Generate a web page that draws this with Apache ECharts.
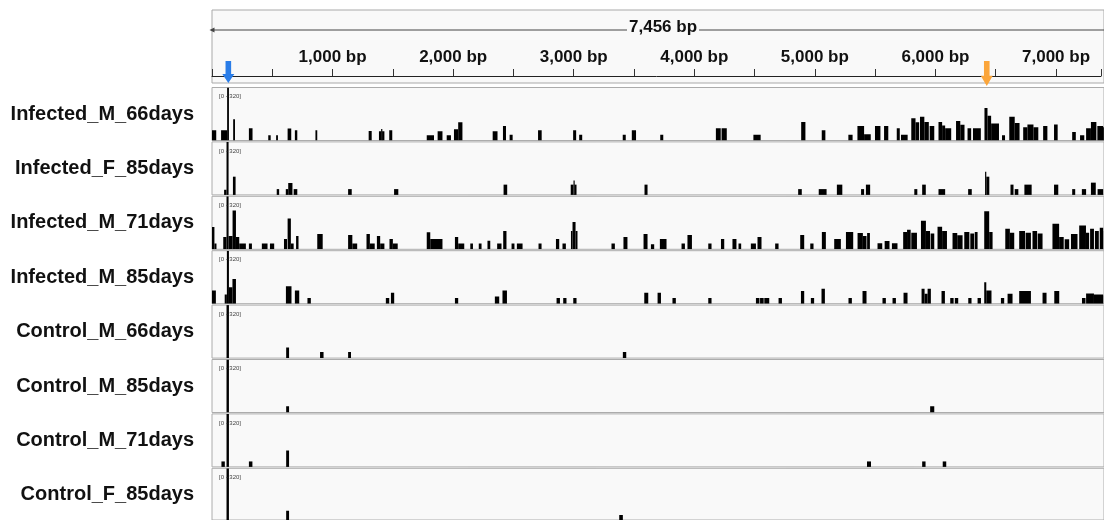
<!DOCTYPE html>
<html>
<head>
<meta charset="utf-8">
<script src="https://cdn.jsdelivr.net/npm/echarts@6/dist/echarts.min.js"></script>
<style>
  html, body { margin: 0; padding: 0; background: #ffffff; }
  #chart { width: 1104px; height: 520px; }
</style>
</head>
<body>
<div id="chart"></div>
<script>
// ---------------- DATA (genomic start bp, end bp, coverage) ----------------
const trackNames = [
  'Infected_M_66days', 'Infected_F_85days', 'Infected_M_71days', 'Infected_M_85days',
  'Control_M_66days', 'Control_M_85days', 'Control_M_71days', 'Control_F_85days'
];
const dataRangeMax = 320;
const viewSpanBp = 7456;      // length of the locus shown in the header
const visibleEndBp = 7373;    // bp at the right edge of the visible window
const rulerTickStep = 500;
const rulerLabelStep = 1000;
const blueMarkerBp = 135;
const orangeMarkerBp = 6404;

const infectedM66 = [
  [0,35,62],[75,125,62],[125,140,320],[175,190,128],[305,335,74],[465,485,31],[530,545,31],
  [625,655,72],[685,705,62],[855,870,62],[1295,1320,58],[1380,1398,56],[1398,1406,70],[1406,1425,56],
  [1465,1490,62],[1775,1835,31],[1865,1905,56],[1940,1975,31],[2000,2035,68],[2035,2070,110],
  [2320,2360,56],[2405,2430,87],[2460,2485,35],[2695,2725,62],[2985,3010,62],[3035,3060,35],
  [3395,3420,35],[3470,3505,62],[3705,3730,35],[4165,4205,74],[4212,4255,74],[4475,4535,35],
  [4870,4905,111],[5040,5070,62],[5260,5295,35],[5335,5390,87],[5390,5445,37],[5480,5525,87],
  [5555,5590,87],[5660,5685,74],[5695,5750,35],[5780,5815,134],[5815,5845,110],[5852,5888,143],
  [5888,5925,111],[5932,5970,87],[6005,6035,111],[6035,6060,90],[6060,6110,74],[6150,6185,118],
  [6185,6220,95],[6245,6275,74],[6290,6355,74],[6385,6410,196],[6410,6440,150],[6440,6505,103],
  [6530,6555,31],[6590,6635,143],[6635,6675,105],[6705,6740,80],[6740,6790,97],[6790,6830,80],
  [6870,6905,87],[6960,6990,97],[7110,7140,51],[7175,7210,31],[7225,7265,74],[7265,7310,111],
  [7318,7366,87],[7366,7456,80]
];
const infectedF85 = [
  [100,120,31],[120,137,320],[173,195,110],[535,555,35],[610,630,35],[630,665,72],[675,705,35],
  [1125,1155,35],[1505,1540,35],[2410,2440,62],[2965,2988,62],[2988,2996,87],[2996,3013,62],
  [3575,3600,62],[4845,4875,35],[5015,5080,35],[5165,5210,62],[5365,5390,35],[5405,5440,62],
  [5805,5830,35],[5870,5900,62],[6005,6060,35],[6250,6280,35],[6390,6400,140],[6400,6425,110],
  [6600,6625,62],[6635,6665,35],[6715,6775,62],[6960,6995,62],[7110,7135,35],[7190,7225,35],
  [7265,7305,74],[7320,7366,35],[7375,7456,35]
];
const infectedM71 = [
  [0,20,134],[20,37,35],[93,120,74],[120,137,320],[137,170,80],[170,198,235],[198,225,74],
  [225,280,35],[305,330,35],[412,459,35],[479,514,35],[595,620,62],[625,652,186],[652,675,35],
  [695,715,80],[870,915,93],[1125,1160,87],[1160,1200,35],[1277,1305,93],[1305,1345,35],
  [1363,1390,80],[1390,1425,35],[1467,1495,62],[1495,1535,35],[1775,1804,103],[1804,1905,62],
  [2008,2035,74],[2035,2085,35],[2135,2157,35],[2205,2228,35],[2277,2300,51],[2357,2393,35],
  [2407,2434,111],[2476,2500,35],[2520,2567,35],[2699,2724,35],[2843,2870,62],[2897,2925,35],
  [2967,2980,110],[2980,3005,165],[3005,3021,110],[3302,3330,35],[3401,3434,74],[3567,3600,93],
  [3628,3655,31],[3702,3757,62],[3881,3909,35],[3930,3967,87],[4102,4129,35],[4207,4234,62],
  [4302,4335,62],[4352,4374,35],[4454,4496,35],[4509,4542,74],[4655,4683,35],[4862,4895,87],
  [4945,4972,35],[5041,5074,105],[5143,5198,62],[5240,5300,105],[5336,5380,99],[5380,5410,80],
  [5415,5438,99],[5501,5540,37],[5560,5600,50],[5620,5666,37],[5713,5745,105],[5745,5775,118],
  [5780,5827,100],[5860,5901,173],[5901,5935,111],[5940,5970,95],[5997,6035,136],[6035,6075,110],
  [6121,6160,99],[6160,6204,85],[6218,6260,105],[6268,6300,95],[6305,6328,105],[6383,6424,229],
  [6424,6452,105],[6557,6595,124],[6595,6631,100],[6672,6720,111],[6725,6769,100],[6782,6820,111],
  [6825,6865,95],[6947,7002,155],[7002,7040,74],[7048,7085,60],[7100,7154,93],[7168,7224,143],
  [7224,7250,100],[7258,7290,124],[7298,7330,110],[7338,7366,130],[7372,7456,110]
];
const infectedM85 = [
  [0,32,80],[105,123,56],[123,140,320],[140,169,99],[169,198,149],[611,657,105],[685,721,80],
  [789,817,35],[1437,1465,35],[1479,1506,66],[2008,2035,35],[2338,2374,43],[2401,2438,80],
  [2848,2876,35],[2903,2930,35],[2986,3013,35],[3573,3606,66],[3683,3711,66],[3806,3834,35],
  [4102,4129,35],[4496,4525,35],[4530,4560,35],[4565,4606,35],[4683,4711,35],[4868,4895,76],
  [4950,4977,35],[5038,5066,91],[5261,5289,35],[5377,5410,76],[5542,5570,35],[5625,5653,35],
  [5716,5749,66],[5865,5890,91],[5890,5915,60],[5915,5942,91],[6030,6058,76],[6102,6130,35],
  [6140,6168,35],[6251,6278,35],[6328,6356,35],[6383,6400,130],[6400,6443,80],[6521,6548,35],
  [6576,6617,60],[6672,6769,76],[6865,6898,66],[6962,7003,76],[7191,7220,35],[7225,7290,62],
  [7290,7366,55],[7372,7456,50]
];
const controlM66 = [[120,140,320],[613,637,64],[893,922,37],[1125,1149,37],[3396,3424,37]];
const controlM85 = [[120,140,320],[613,637,37],[5936,5970,37]];
const controlM71 = [[78,106,33],[120,140,320],[305,334,33],[613,637,99],[5414,5447,33],[5870,5898,33],[6040,6069,33]];
const controlF85 = [[120,140,320],[613,637,58],[3366,3396,31]];

const trackData = [infectedM66, infectedF85, infectedM71, infectedM85, controlM66, controlM85, controlM71, controlF85];

// ---------------- LAYOUT ----------------
const LEFT = 212;
const TRACK_TOP0 = 87.5, TRACK_PITCH = 54.4, TRACK_H = 53;
const FONT = '"Liberation Sans", Arial, Helvetica, sans-serif';

const grids = [], xAxes = [], yAxes = [], series = [], titles = [];

// header box (grid 0)
grids.push({ left: LEFT, right: 0, top: 10, height: 73, show: true,
  backgroundColor: '#f9f9f9', borderColor: '#a9a9a9', borderWidth: 1 });
xAxes.push({ gridIndex: 0, type: 'value', min: 0, max: visibleEndBp, show: false });
yAxes.push({ gridIndex: 0, type: 'value', min: 0, max: 73, inverse: true, show: false });

// ruler (grid 1)
grids.push({ left: LEFT, right: 0, top: 10, height: 66, show: false });
xAxes.push({ gridIndex: 1, type: 'value', min: 0, max: visibleEndBp, interval: rulerTickStep,
  position: 'bottom',
  axisLine: { show: true, lineStyle: { color: '#222', width: 1 } },
  axisTick: { show: true, inside: true, length: 7, lineStyle: { color: '#333', width: 1 } },
  axisLabel: { show: true, inside: true, margin: 10, color: '#111', fontSize: 17, fontWeight: 'bold',
    fontFamily: FONT,
    formatter: v => (v > 0 && v % rulerLabelStep === 0) ? v.toLocaleString('en-US') + ' bp' : '' },
  splitLine: { show: false } });
yAxes.push({ gridIndex: 1, type: 'value', min: 0, max: 1, show: false });

// span line with label
series.push({ type: 'line', xAxisIndex: 0, yAxisIndex: 0, silent: true, z: 3, clip: false,
  lineStyle: { color: '#444', width: 1 },
  data: [
    { value: [0, 20], symbol: 'triangle', symbolSize: [5, 5], symbolRotate: 90,
      itemStyle: { color: '#444', opacity: 1 } },
    { value: [viewSpanBp, 20], symbol: 'none' }
  ] });
series.push({ type: 'scatter', xAxisIndex: 0, yAxisIndex: 0, silent: true, z: 4,
  symbolSize: 0, itemStyle: { opacity: 1 },
  data: [[viewSpanBp / 2, 20]],
  label: { show: true, position: 'inside', offset: [0, -3],
    formatter: () => viewSpanBp.toLocaleString('en-US') + ' bp',
    color: '#111', fontSize: 17, fontWeight: 'bold', fontFamily: FONT,
    backgroundColor: '#f9f9f9', padding: [0, 2] } });

// marker arrows
const arrowPath = 'path://M3.2,0L8.8,0L8.8,13L12,13L6,22L0,13L3.2,13Z';
series.push({ type: 'scatter', xAxisIndex: 0, yAxisIndex: 0, silent: true, z: 10, clip: false,
  symbol: arrowPath,
  data: [
    { value: [blueMarkerBp, 62], symbolSize: [12, 22], itemStyle: { color: '#2a7de8', opacity: 1 } },
    { value: [orangeMarkerBp, 63.5], symbolSize: [12, 25], itemStyle: { color: '#fba53a', opacity: 1 } }
  ] });

function renderBlock(params, api) {
  const p0 = api.coord([api.value(0), Math.min(api.value(2), dataRangeMax)]);
  const p1 = api.coord([api.value(1), 0]);
  return { type: 'rect',
    shape: { x: p0[0], y: p0[1], width: Math.max(p1[0] - p0[0], 1.2), height: p1[1] - p0[1] },
    style: { fill: '#000' } };
}

trackNames.forEach((name, i) => {
  const gi = i + 2;
  const top = TRACK_TOP0 + i * TRACK_PITCH;
  grids.push({ left: LEFT, right: 0, top: top, height: TRACK_H, show: true,
    backgroundColor: '#f9f9f9', borderColor: '#acacac', borderWidth: 1 });
  xAxes.push({ gridIndex: gi, type: 'value', min: 0, max: visibleEndBp, show: false });
  yAxes.push({ gridIndex: gi, type: 'value', min: 0, max: dataRangeMax,
    name: name, nameLocation: 'middle', nameRotate: 0, nameGap: 18,
    nameTextStyle: { fontSize: 20, fontWeight: 'bold', color: '#111', fontFamily: FONT, padding: [0, 0, 3, 0] },
    axisLine: { show: false }, axisTick: { show: false }, axisLabel: { show: false }, splitLine: { show: false } });
  series.push({ type: 'custom', xAxisIndex: gi, yAxisIndex: gi, silent: true, clip: true,
    renderItem: renderBlock, encode: { x: [0, 1], y: 2 }, data: trackData[i] });
  titles.push({ text: '[0 - ' + dataRangeMax + ']', left: LEFT + 2, top: top + 1,
    textStyle: { fontSize: 6, fontWeight: 'normal', color: '#444', fontFamily: FONT } });
});

const chart = echarts.init(document.getElementById('chart'), null, { renderer: 'canvas' });
chart.setOption({
  animation: false,
  backgroundColor: '#ffffff',
  title: titles,
  grid: grids,
  xAxis: xAxes,
  yAxis: yAxes,
  series: series
});
</script>
</body>
</html>
